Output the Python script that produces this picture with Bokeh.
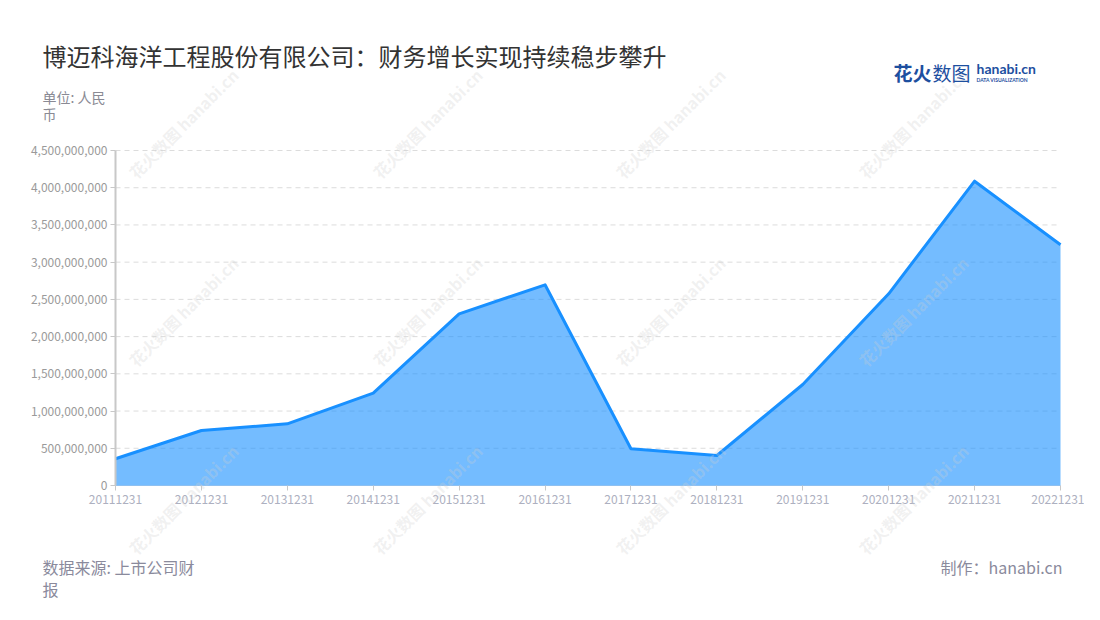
import math
from bokeh.plotting import figure
from bokeh.models import ColumnDataSource, Range1d, FixedTicker, NumeralTickFormatter, Label
from bokeh.embed import file_html
from bokeh.resources import INLINE

# ---- data ----
dates = ["20111231", "20121231", "20131231", "20141231", "20151231", "20161231",
         "20171231", "20181231", "20191231", "20201231", "20211231", "20221231"]
revenue = [359e6, 739e6, 828e6, 1240e6, 2306e6, 2696e6,
           493e6, 403e6, 1357e6, 2575e6, 4088e6, 3233e6]
y_ticks = [0, 5e8, 1e9, 1.5e9, 2e9, 2.5e9, 3e9, 3.5e9, 4e9, 4.5e9]

title_text = "博迈科海洋工程股份有限公司：财务增长实现持续稳步攀升"
unit_line1 = "单位: 人民"
unit_line2 = "币"
source_line1 = "数据来源: 上市公司财"
source_line2 = "报"
maker_text = "制作：hanabi.cn"
watermark_text = "花火数图 hanabi.cn"

CJK = "Noto Sans CJK SC"
BLUE = "#1890ff"

# ---- layout (canvas pixels) ----
W, H = 1084, 604
PL, PR, PT, PB = 115, 1060, 150, 485   # plot-area edges on the canvas

n = len(dates)
x_lo, x_hi = 0, n - 1
y_lo, y_hi = y_ticks[0], y_ticks[-1]
xs = (PR - PL) / (x_hi - x_lo)
ys = (PB - PT) / (y_hi - y_lo)
x_range = Range1d(x_lo - PL / xs, x_hi + (W - PR) / xs)
y_range = Range1d(y_lo - (H - PB) / ys, y_hi + PT / ys)

idx = list(range(n))
src = ColumnDataSource(dict(x=idx, y=revenue, base=[0] * n))
grid_src = ColumnDataSource(dict(y=y_ticks[1:], x0=[x_lo] * (len(y_ticks) - 1),
                                 x1=[x_hi] * (len(y_ticks) - 1)))

p = figure(width=W, height=H, output_backend="svg", toolbar_location=None,
           x_range=x_range, y_range=y_range,
           min_border_left=0, min_border_right=0, min_border_top=0, min_border_bottom=0)
p.outline_line_color = None
p.background_fill_color = "white"
p.border_fill_color = "white"
p.xgrid.visible = False
p.ygrid.visible = False

# dashed horizontal grid limited to the plot area
p.segment(x0="x0", x1="x1", y0="y", y1="y", source=grid_src,
          line_color="#dcdcdc", line_dash="5 4", line_width=1)

p.varea(x="x", y1="base", y2="y", source=src, fill_color=BLUE, fill_alpha=0.6)
p.line(x="x", y="y", source=src, line_color=BLUE, line_width=3, line_join="round")

# axes pinned at the data origin
p.yaxis.fixed_location = x_lo
p.yaxis.bounds = (y_lo, y_hi)
p.yaxis.ticker = FixedTicker(ticks=y_ticks)
p.yaxis.formatter = NumeralTickFormatter(format="0,0")
p.yaxis.axis_line_color = "#c8c8c8"
p.yaxis.axis_line_width = 2
p.yaxis.major_tick_line_color = "#c8c8c8"
p.yaxis.major_tick_out = 5
p.yaxis.major_tick_in = 0
p.yaxis.minor_tick_line_color = None
p.yaxis.major_label_text_font = CJK
p.yaxis.major_label_text_font_size = "12px"
p.yaxis.major_label_text_color = "#9a9a9a"
p.yaxis.major_label_standoff = 3

p.xaxis.fixed_location = y_lo
p.xaxis.bounds = (x_lo, x_hi)
p.xaxis.ticker = FixedTicker(ticks=idx)
p.xaxis.major_label_overrides = {i: d for i, d in zip(idx, dates)}
p.xaxis.axis_line_color = "#8fc0f0"
p.xaxis.axis_line_width = 1
p.xaxis.major_tick_line_color = "#c8c8c8"
p.xaxis.major_tick_out = 5
p.xaxis.major_tick_in = 0
p.xaxis.minor_tick_line_color = None
p.xaxis.major_label_text_font = CJK
p.xaxis.major_label_text_font_size = "12px"
p.xaxis.major_label_text_color = "#adb0c0"
p.xaxis.major_label_standoff = 4


def lab(text, px, py, size, color, align="left", style="normal", font=CJK, angle=0.0, alpha=1.0):
    p.add_layout(Label(x=px, y=H - py, x_units="screen", y_units="screen",
                       text=text, text_font=font, text_font_size=f"{size}px",
                       text_color=color, text_align=align, text_baseline="middle",
                       text_font_style=style, angle=angle, text_alpha=alpha))


# faint watermarks
for cx in (183, 427, 670, 913):
    for cy in (123, 311, 499):
        lab(watermark_text, cx, cy, 16, "#cfcfcf", align="center", style="bold",
            angle=math.pi / 4, alpha=0.3)

lab(title_text, 42, 55, 24, "#333333")
lab(unit_line1, 42, 96, 14, "#8a8a94")
lab(unit_line2, 42, 113, 14, "#8a8a94")
lab(source_line1, 42, 566, 16, "#8a8a9c")
lab(source_line2, 42, 588, 16, "#8a8a9c")
lab(maker_text, 1062, 566, 16, "#8a8a9c", align="right")

# logo
LOGO = "#1d4f9f"
lab("花火", 893, 72, 19, LOGO, style="bold")
lab("数图", 932, 72, 19, LOGO)
lab("hanabi.cn", 976, 68, 14, LOGO, style="bold", font="Lato")
lab("DATA VISUALIZATION", 976, 79, 5, LOGO, style="bold", font="Lato")

open("out.html", "w").write(file_html(p, INLINE))
